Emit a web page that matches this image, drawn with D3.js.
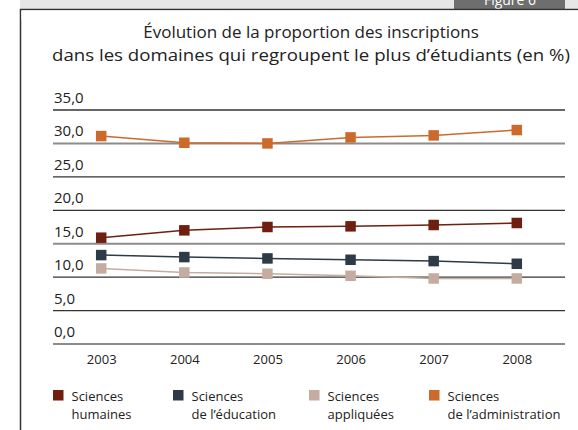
<!DOCTYPE html>
<html>
<head>
<meta charset="utf-8">
<script src="https://cdn.jsdelivr.net/npm/d3@7"></script>
<style>
  body { margin: 0; background: #fff; }
  svg { display: block; font-family: "Open Sans", sans-serif; }
</style>
</head>
<body>
<div class="chart"></div>
<script>
// data
const years = ['2003', '2004', '2005', '2006', '2007', '2008'];
const humaines = [15.9, 17.0, 17.5, 17.6, 17.8, 18.1];
const education = [13.3, 13.0, 12.8, 12.6, 12.4, 12.0];
const appliquees = [11.3, 10.7, 10.5, 10.2, 9.8, 9.8];
const administration = [31.1, 30.1, 30.0, 30.9, 31.2, 32.0];
const yTicks = [0, 5, 10, 15, 20, 25, 30, 35];
const seriesNames = ['Sciences\nhumaines', 'Sciences\nde l\u2019éducation', 'Sciences\nappliquées', 'Sciences\nde l\u2019administration'];
const seriesColors = ['#6e1f0f', '#2e3b46', '#c4ada0', '#cc6a2c'];

const series = [humaines, education, appliquees, administration].map((v, i) => ({
  name: seriesNames[i], color: seriesColors[i], values: v
}));

const W = 578, H = 430;
const svg = d3.select('.chart').append('svg')
  .attr('width', W)
  .attr('height', H);

//frame
svg.append('rect').attr('x', 20).attr('y', 0).attr('width', W - 20).attr('height', 9).attr('fill', '#e6e6e6');
svg.append('rect').attr('x', 454).attr('y', 0).attr('width', 111).attr('height', 9).attr('fill', '#6e6e6e');
svg.append('text').attr('x', 510).attr('y', 5).attr('text-anchor', 'middle')
  .attr('font-size', 14).attr('fill', '#fff').text('Figure 6');
svg.append('path').attr('d', 'M20.5,430 V9.5 H578').attr('fill', 'none').attr('stroke', '#333').attr('stroke-width', 1.5);
svg.append('rect').attr('x', 21.5).attr('y', 10.5).attr('width', W).attr('height', 10).attr('fill', '#fff');

//title
svg.append('text').attr('x', 311).attr('y', 38).attr('text-anchor', 'middle')
  .attr('font-size', 17).attr('fill', '#222').text('Évolution de la proportion des inscriptions');
svg.append('text').attr('x', 311).attr('y', 61).attr('text-anchor', 'middle')
  .attr('font-size', 17).attr('fill', '#222')
  .attr('textLength', 518).attr('lengthAdjust', 'spacingAndGlyphs')
  .text('dans les domaines qui regroupent le plus d\u2019étudiants (en %)');

//scales
const x = d3.scalePoint().domain(years).range([53, 565]).padding(0.58);
const y = d3.scaleLinear().domain([0, 35]).range([344, 110]);

//grid + labels
const grid = svg.append('g');
grid.selectAll('line').data(yTicks).enter().append('line')
  .attr('x1', 53).attr('x2', 565)
  .attr('y1', d => y(d)).attr('y2', d => y(d))
  .attr('stroke', d => d % 15 === 0 ? '#8c8c8c' : '#333')
  .attr('stroke-width', d => d % 15 === 0 ? 2 : 1.3);
grid.selectAll('text').data(yTicks).enter().append('text')
  .attr('x', 54).attr('y', d => y(d) - 7)
  .attr('font-size', 15).attr('fill', '#222')
  .text(d => d3.format('.1f')(d).replace('.', ','));

//x axis
const xAxis = svg.append('g').attr('transform', 'translate(0,344)')
  .call(d3.axisBottom(x).tickSize(0).tickPadding(11));
xAxis.select('.domain').remove();
xAxis.selectAll('text').attr('font-size', 13).attr('fill', '#222').attr('font-family', '"Open Sans", sans-serif');

//lines
const line = d3.line().x((d, i) => x(years[i])).y(d => y(d));
const sg = svg.selectAll('.series').data(series).enter().append('g');
sg.append('path')
  .attr('d', d => line(d.values))
  .attr('fill', 'none')
  .attr('stroke', d => d.color)
  .attr('stroke-width', 1.5);
const sq = 10.5;
sg.selectAll('rect').data(d => d.values.map((v, i) => ({v, i, color: d.color}))).enter().append('rect')
  .attr('x', d => x(years[d.i]) - sq / 2)
  .attr('y', d => y(d.v) - sq / 2)
  .attr('width', sq).attr('height', sq)
  .attr('fill', d => d.color);

//legend
const legendX = [53, 173, 309, 429];
const lg = svg.selectAll('.legend').data(series).enter().append('g')
  .attr('transform', (d, i) => `translate(${legendX[i]},390)`);
lg.append('rect').attr('width', 10.5).attr('height', 10.5).attr('fill', d => d.color);
lg.selectAll('text').data(d => d.name.split('\n')).enter().append('text')
  .attr('x', 18.5)
  .attr('y', (d, i) => 11 + i * 17.5)
  .attr('font-size', 13).attr('fill', '#222')
  .text(d => d);
</script>
</body>
</html>
